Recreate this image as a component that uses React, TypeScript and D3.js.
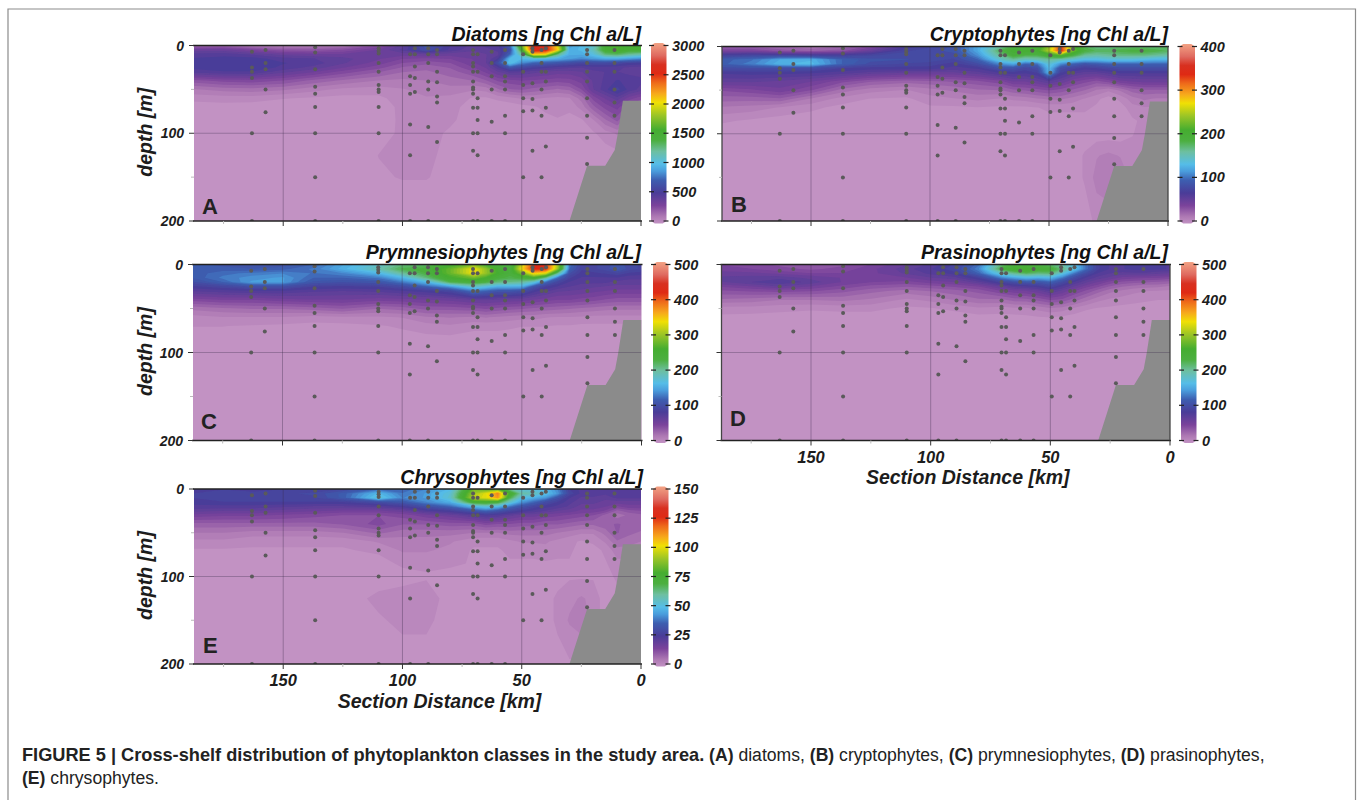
import * as d3 from "d3";

// Grid the fields were read on (section distance in km, depth in m)
const kmGrid = [190, 175, 163, 150, 137, 125, 110, 100, 90, 80, 70, 65, 60, 55, 50, 45, 40, 35, 30, 25, 20, 15, 10, 5, 0];
const depthGrid = [0, 5, 10, 15, 20, 25, 30, 40, 50, 60, 70, 85, 100, 125, 150, 200];

const diatoms = [
  [190, 200, 130, 110, 120, 140, 280, 450, 700, 520, 450, 480, 500, 750, 1700, 2650, 2600, 2000, 900, 1000, 1100, 1500, 1600, 1500, 1500],
  [400, 400, 330, 260, 250, 290, 380, 480, 650, 500, 430, 450, 480, 650, 1500, 2650, 2600, 2100, 950, 1000, 1150, 1500, 1600, 1500, 1500],
  [480, 490, 460, 400, 380, 380, 400, 400, 420, 400, 400, 420, 450, 750, 1250, 2100, 2050, 1300, 950, 950, 1050, 1300, 1350, 1250, 1200],
  [520, 540, 540, 490, 470, 440, 380, 330, 320, 330, 380, 420, 520, 1000, 1000, 1050, 1000, 950, 900, 850, 900, 950, 950, 900, 850],
  [540, 560, 560, 520, 490, 430, 350, 280, 250, 280, 370, 420, 650, 1050, 850, 750, 720, 680, 640, 600, 620, 620, 600, 560, 550],
  [530, 550, 560, 500, 450, 380, 300, 230, 200, 240, 330, 380, 500, 700, 620, 560, 530, 500, 480, 470, 500, 500, 480, 460, 450],
  [480, 510, 510, 440, 380, 310, 240, 190, 180, 210, 280, 340, 420, 480, 470, 440, 420, 400, 400, 420, 450, 470, 470, 450, 450],
  [260, 300, 310, 280, 220, 180, 140, 130, 140, 170, 190, 230, 290, 310, 330, 320, 310, 300, 310, 350, 430, 480, 520, 500, 480],
  [130, 160, 170, 150, 110, 80, 70, 90, 110, 120, 100, 110, 180, 230, 240, 220, 200, 180, 200, 280, 420, 500, 580, 500, 450],
  [60, 70, 70, 50, 40, 30, 35, 70, 90, 80, 40, 40, 60, 80, 100, 100, 90, 80, 90, 160, 300, 380, 450, 350, 300],
  [25, 25, 20, 15, 10, 10, 20, 60, 90, 70, 15, 10, 10, 15, 30, 40, 60, 80, 60, 110, 220, 300, 350, 250, 200],
  [10, 10, 8, 6, 5, 5, 15, 60, 85, 60, 10, 5, 5, 8, 15, 20, 30, 40, 30, 40, 90, 180, 250, 150, 100],
  [5, 5, 4, 3, 3, 3, 20, 60, 75, 35, 8, 3, 3, 4, 8, 8, 10, 12, 12, 15, 40, 70, 100, 80, 60],
  [3, 3, 3, 3, 3, 3, 48, 55, 60, 30, 5, 3, 3, 3, 3, 3, 3, 3, 3, 5, 10, 20, 30, 30, 30],
  [3, 3, 3, 3, 3, 3, 40, 50, 50, 30, 4, 3, 3, 3, 3, 3, 3, 3, 3, 3, 3, 3, 3, 3, 3],
  [3, 3, 3, 3, 3, 3, 3, 3, 3, 3, 3, 3, 3, 3, 3, 3, 3, 3, 3, 3, 3, 3, 3, 3, 3],
];

const cryptophytes = [
  [30, 30, 25, 20, 25, 40, 70, 80, 90, 125, 165, 190, 190, 195, 240, 335, 220, 180, 170, 170, 175, 175, 175, 175, 175],
  [45, 45, 35, 30, 35, 55, 80, 85, 90, 125, 185, 205, 205, 205, 250, 340, 230, 190, 180, 180, 185, 190, 190, 185, 180],
  [75, 80, 80, 75, 75, 80, 85, 85, 85, 115, 170, 195, 185, 185, 200, 220, 190, 165, 160, 165, 170, 170, 170, 165, 160],
  [95, 105, 125, 130, 100, 90, 88, 85, 80, 100, 150, 165, 150, 155, 165, 155, 145, 135, 135, 140, 140, 140, 135, 130, 130],
  [95, 110, 130, 135, 100, 85, 80, 78, 72, 85, 115, 125, 100, 105, 145, 115, 100, 90, 95, 100, 100, 100, 100, 100, 100],
  [85, 85, 85, 85, 75, 72, 72, 72, 66, 70, 90, 90, 80, 85, 135, 85, 78, 72, 75, 80, 85, 85, 85, 85, 85],
  [70, 72, 72, 70, 66, 60, 56, 55, 55, 60, 70, 72, 70, 75, 130, 75, 65, 60, 60, 65, 70, 70, 70, 70, 70],
  [58, 58, 55, 50, 40, 32, 28, 30, 32, 36, 42, 50, 50, 55, 62, 55, 45, 40, 35, 40, 48, 50, 52, 52, 52],
  [38, 42, 48, 38, 22, 15, 12, 16, 20, 24, 25, 30, 32, 35, 38, 35, 30, 25, 18, 14, 20, 28, 30, 30, 30],
  [28, 28, 30, 18, 10, 6, 5, 10, 12, 14, 12, 14, 15, 18, 20, 20, 16, 12, 8, 3, 8, 16, 20, 18, 18],
  [18, 16, 12, 8, 4, 2, 2, 5, 5, 6, 5, 5, 5, 6, 8, 8, 8, 8, 5, 1, 3, 10, 12, 12, 12],
  [8, 5, 3, 2, 1, 1, 1, 3, 3, 3, 3, 3, 3, 3, 3, 3, 3, 3, 3, 1, 1, 5, 8, 8, 8],
  [2, 2, 1, 1, 1, 1, 1, 3, 3, 3, 3, 3, 3, 3, 3, 3, 3, 3, 3, 3, 3, 6, 8, 8, 8],
  [1, 1, 1, 1, 1, 1, 1, 3, 3, 3, 3, 3, 3, 3, 3, 3, 3, 7, 12, 14, 12, 8, 8, 8, 8],
  [1, 1, 1, 1, 1, 1, 1, 3, 3, 3, 3, 3, 3, 3, 3, 3, 3, 7, 15, 18, 18, 10, 8, 8, 8],
  [1, 1, 1, 1, 1, 1, 1, 3, 3, 3, 3, 3, 3, 3, 3, 3, 3, 3, 8, 8, 8, 5, 5, 5, 5],
];

const prymnesiophytes = [
  [122, 115, 108, 112, 125, 155, 185, 215, 220, 255, 290, 260, 235, 230, 320, 425, 420, 310, 130, 100, 100, 105, 115, 105, 100],
  [118, 120, 118, 122, 135, 160, 195, 230, 240, 280, 340, 300, 255, 240, 340, 425, 420, 300, 125, 95, 100, 105, 120, 105, 100],
  [118, 130, 135, 140, 132, 140, 165, 205, 235, 280, 340, 300, 260, 240, 290, 350, 330, 210, 110, 90, 92, 95, 100, 92, 90],
  [115, 135, 145, 150, 125, 125, 135, 165, 215, 260, 285, 265, 240, 230, 240, 260, 210, 130, 95, 85, 85, 85, 85, 80, 80],
  [105, 125, 150, 150, 115, 110, 115, 135, 165, 230, 245, 235, 215, 210, 205, 180, 130, 100, 85, 80, 80, 80, 75, 75, 75],
  [90, 100, 110, 110, 95, 92, 95, 105, 125, 150, 190, 175, 160, 160, 160, 115, 95, 85, 78, 75, 72, 70, 68, 68, 68],
  [78, 82, 85, 85, 80, 78, 80, 85, 90, 100, 135, 125, 115, 115, 110, 90, 80, 72, 70, 68, 65, 62, 60, 60, 60],
  [50, 55, 55, 60, 62, 62, 58, 60, 62, 65, 72, 72, 70, 68, 66, 62, 58, 55, 55, 52, 50, 46, 44, 44, 44],
  [25, 30, 32, 32, 35, 40, 32, 35, 42, 42, 45, 48, 45, 42, 40, 38, 36, 34, 32, 30, 28, 26, 25, 25, 25],
  [12, 15, 15, 15, 12, 14, 14, 16, 22, 24, 22, 24, 22, 20, 18, 18, 16, 15, 15, 14, 13, 13, 13, 13, 13],
  [8, 8, 7, 6, 5, 5, 7, 9, 12, 14, 10, 10, 10, 9, 8, 8, 8, 7, 7, 6, 6, 6, 6, 6, 6],
  [4, 4, 4, 4, 4, 4, 4, 4, 5, 5, 4, 4, 4, 4, 4, 4, 4, 4, 4, 4, 4, 4, 4, 4, 4],
  [3, 3, 3, 3, 3, 3, 3, 3, 3, 3, 3, 3, 3, 3, 3, 3, 3, 3, 3, 3, 3, 3, 3, 3, 3],
  [3, 3, 3, 3, 3, 3, 3, 3, 3, 3, 3, 3, 3, 3, 3, 3, 3, 3, 3, 3, 3, 3, 3, 3, 3],
  [3, 3, 3, 3, 3, 3, 3, 3, 3, 3, 3, 3, 3, 3, 3, 3, 3, 3, 3, 3, 3, 3, 3, 3, 3],
  [3, 3, 3, 3, 3, 3, 3, 3, 3, 3, 3, 3, 3, 3, 3, 3, 3, 3, 3, 3, 3, 3, 3, 3, 3],
];

const prasinophytes = [
  [55, 50, 45, 40, 45, 55, 70, 80, 95, 130, 220, 240, 240, 230, 220, 200, 170, 130, 95, 85, 85, 90, 90, 88, 85],
  [60, 55, 50, 45, 50, 60, 75, 85, 100, 140, 240, 260, 265, 250, 245, 215, 175, 130, 95, 85, 85, 90, 90, 88, 85],
  [65, 65, 60, 55, 55, 60, 72, 80, 90, 125, 190, 210, 225, 215, 220, 180, 135, 105, 85, 78, 75, 75, 75, 72, 70],
  [72, 75, 75, 68, 62, 60, 62, 70, 75, 95, 140, 155, 165, 160, 165, 135, 105, 85, 75, 68, 60, 58, 56, 55, 52],
  [68, 78, 85, 75, 62, 55, 52, 58, 62, 75, 100, 110, 115, 115, 125, 105, 85, 72, 62, 52, 45, 42, 40, 38, 36],
  [55, 62, 70, 62, 52, 44, 40, 44, 48, 55, 72, 80, 85, 90, 100, 85, 70, 58, 48, 38, 32, 28, 26, 25, 22],
  [45, 48, 50, 48, 42, 34, 28, 32, 36, 42, 55, 60, 62, 68, 78, 68, 55, 45, 35, 26, 22, 18, 16, 15, 14],
  [30, 28, 24, 24, 26, 22, 14, 18, 24, 30, 30, 35, 36, 42, 48, 45, 35, 26, 18, 14, 12, 10, 9, 8, 8],
  [12, 12, 10, 9, 10, 10, 6, 7, 10, 14, 12, 14, 14, 18, 22, 20, 14, 9, 7, 6, 5, 5, 4, 4, 4],
  [6, 5, 5, 4, 4, 4, 3, 3, 3, 5, 5, 5, 6, 7, 8, 6, 4, 3, 3, 3, 3, 3, 3, 3, 3],
  [3, 3, 3, 3, 3, 3, 3, 3, 3, 3, 3, 3, 3, 3, 3, 3, 3, 3, 3, 3, 3, 3, 3, 3, 3],
  [3, 3, 3, 3, 3, 3, 3, 3, 3, 3, 3, 3, 3, 3, 3, 3, 3, 3, 3, 3, 3, 3, 3, 3, 3],
  [3, 3, 3, 3, 3, 3, 3, 3, 3, 3, 3, 3, 3, 3, 3, 3, 3, 3, 3, 3, 3, 3, 3, 3, 3],
  [3, 3, 3, 3, 3, 3, 3, 3, 3, 3, 3, 3, 3, 3, 3, 3, 3, 3, 3, 3, 3, 3, 3, 3, 3],
  [3, 3, 3, 3, 3, 3, 3, 3, 3, 3, 3, 3, 3, 3, 3, 3, 3, 3, 3, 3, 3, 3, 3, 3, 3],
  [3, 3, 3, 3, 3, 3, 3, 3, 3, 3, 3, 3, 3, 3, 3, 3, 3, 3, 3, 3, 3, 3, 3, 3, 3],
];

const chrysophytes = [
  [28, 28, 27, 28, 28, 30, 38, 38, 42, 50, 85, 80, 80, 62, 52, 52, 50, 42, 28, 25, 25, 24, 24, 24, 24],
  [28, 29, 29, 30, 31, 36, 50, 40, 45, 54, 92, 100, 115, 78, 60, 58, 52, 44, 30, 25, 25, 24, 25, 24, 24],
  [28, 30, 30, 30, 30, 36, 54, 42, 45, 55, 96, 100, 112, 70, 52, 48, 44, 34, 26, 23, 23, 22, 24, 24, 24],
  [27, 28, 28, 28, 28, 28, 32, 35, 42, 48, 75, 76, 72, 56, 44, 38, 32, 28, 24, 22, 22, 20, 20, 20, 20],
  [25, 25, 25, 24, 23, 23, 24, 27, 33, 38, 50, 54, 50, 40, 34, 30, 27, 25, 23, 20, 20, 19, 16, 18, 18],
  [22, 21, 21, 20, 19, 18, 18, 20, 25, 28, 34, 38, 34, 30, 27, 25, 23, 21, 20, 18, 18, 16, 11, 13, 14],
  [18, 17, 17, 16, 15, 14, 14, 15, 18, 20, 24, 26, 25, 22, 20, 20, 18, 17, 16, 15, 14, 11, 8, 10, 11],
  [11, 11, 11, 11, 11, 12, 15, 12, 12, 13, 13, 15, 14, 14, 13, 13, 12, 12, 11, 10, 10, 11, 12, 11, 11],
  [7, 7, 6, 6, 6, 7, 10, 8, 8, 8, 7, 7, 7, 8, 8, 8, 8, 7, 6, 5, 5, 8, 12, 10, 9],
  [4, 4, 3, 3, 3, 3, 5, 6, 6, 5, 3, 3, 3, 4, 5, 5, 5, 4, 3, 2, 3, 5, 9, 8, 7],
  [2, 2, 2, 2, 2, 2, 3, 5, 5, 4, 2, 2, 2, 3, 3, 3, 4, 3, 3, 1, 1, 3, 6, 6, 6],
  [1, 1, 1, 1, 1, 1, 1, 3, 3, 3, 2, 1, 1, 2, 2, 2, 2, 2, 2, 1, 1, 2, 4, 4, 4],
  [1, 1, 1, 1, 1, 1, 1, 1, 2, 1, 1, 1, 1, 1, 1, 1, 1, 1, 2, 2, 2, 1, 3, 3, 3],
  [1, 1, 1, 1, 1, 1, 3, 4, 4, 1, 1, 1, 1, 1, 1, 1, 1, 3, 4, 5, 4, 1, 1, 1, 1],
  [1, 1, 1, 1, 1, 1, 2, 3, 3, 1, 1, 1, 1, 1, 1, 1, 1, 3, 5, 6, 4, 1, 1, 1, 1],
  [1, 1, 1, 1, 1, 1, 1, 1, 1, 1, 1, 1, 1, 1, 1, 1, 1, 1, 2, 2, 2, 1, 1, 1, 1],
];

// Sampling stations, same in every panel
const stationKm = [163.1, 157.4, 136.6, 110, 96.8, 94.8, 89.2, 85.5, 70.4, 68.5, 62.6, 57, 49.4, 45.5, 41.7, 39.9, 22.6, 11.1];
const stationDepths = [
  [7, 25, 30, 37, 100, 200],
  [5, 20, 27, 50, 76],
  [2, 8, 27, 47, 55, 70, 100, 150, 200],
  [3, 6, 9, 20, 30, 45, 50, 53, 70, 100, 200],
  [10, 35, 45, 55, 90, 125, 200],
  [3, 10, 24, 37, 53],
  [3, 10, 20, 41, 50, 93, 200],
  [5, 10, 30, 42, 58, 65, 110],
  [5, 10, 20, 24, 30, 41, 48, 50, 55, 71, 100, 120, 200],
  [10, 30, 60, 71, 85, 100, 125, 200],
  [7, 20, 35, 50, 87, 200],
  [5, 20, 35, 41, 50, 80, 100, 200],
  [10, 30, 45, 60, 75, 150],
  [3, 7, 43, 61, 74, 120],
  [5, 20, 30, 50, 80, 150],
  [3, 30, 41, 71, 115],
  [5, 10, 20, 30, 41, 60, 80, 105, 135],
  [5, 20, 30, 50, 65, 80],
];

// Sea floor profile
const bottomKm = [30, 22.6, 15, 11, 9.7, 7.6, 0, 0];
const bottomDepth = [200, 137, 137, 119, 100, 63, 63, 200];

const kmTicks = [150, 100, 50, 0];
const kmMinorTicks = [175, 125, 75, 25];
const depthTicks = [0, 100, 200];
const depthMinorTicks = [50, 150];
const kmGridLines = [150, 100, 50];

const diatomTicks = [0, 500, 1000, 1500, 2000, 2500, 3000];
const cryptoTicks = [0, 100, 200, 300, 400];
const prymTicks = [0, 100, 200, 300, 400, 500];
const chrysoTicks = [0, 25, 50, 75, 100, 125, 150];

// ODV style rainbow
const paletteStops = [0, 0.04, 0.1, 0.17, 0.24, 0.29, 0.33, 0.4, 0.46, 0.52, 0.6, 0.67, 0.72, 0.78, 0.83, 0.88, 0.93, 1];
const paletteColors = [
  "#c292c3", "#ad78b3", "#7b439b", "#4a3c98", "#3d5eb0", "#4a9cdc", "#55bde8", "#6dbfa0", "#4caf40",
  "#45ad30", "#9cc526", "#f0e004", "#f7a81c", "#ee6a1a", "#df2a14", "#d83020", "#df6a60", "#f2a284",
];
const LEVELS = 64;
const KM_MAX = 187.4;
const FONT = "'Liberation Sans', Arial, sans-serif";

const layouts = [
  { id: "A", title: "Diatoms [ng Chl a/L]", values: diatoms, ticks: diatomTicks, max: 3000, left: 194, right: 641, top: 45.5, bottom: 221, titleX: 641, titleY: 40.5, barX: 651, letterX: 202, letterY: 214, yLabels: true, xLabels: false, sides: false },
  { id: "B", title: "Cryptophytes [ng Chl a/L]", values: cryptophytes, ticks: cryptoTicks, max: 400, left: 722, right: 1168, top: 46.5, bottom: 221, titleX: 1168, titleY: 40.5, barX: 1179.5, letterX: 731, letterY: 212, yLabels: false, xLabels: false, sides: true },
  { id: "C", title: "Prymnesiophytes [ng Chl a/L]", values: prymnesiophytes, ticks: prymTicks, max: 500, left: 193, right: 641.5, top: 264.5, bottom: 440.5, titleX: 641, titleY: 258.5, barX: 653, letterX: 201, letterY: 429, yLabels: true, xLabels: false, sides: false },
  { id: "D", title: "Prasinophytes [ng Chl a/L]", values: prasinophytes, ticks: prymTicks, max: 500, left: 721.5, right: 1170, top: 264.5, bottom: 440.5, titleX: 1168, titleY: 258.5, barX: 1181, letterX: 730, letterY: 426, yLabels: false, xLabels: true, sides: true },
  { id: "E", title: "Chrysophytes [ng Chl a/L]", values: chrysophytes, ticks: chrysoTicks, max: 150, left: 194, right: 641, top: 489, bottom: 664, titleX: 643, titleY: 484, barX: 653, letterX: 203, letterY: 653, yLabels: true, xLabels: true, sides: false },
];

function Panel({ p }: { p: (typeof layouts)[number] }) {
  const x = d3.scaleLinear().domain([KM_MAX, 0]).range([p.left, p.right]);
  const y = d3.scaleLinear().domain([0, 200]).range([p.top, p.bottom]);
  const color = d3
    .scaleLinear<string>()
    .domain(paletteStops.map((t) => t * p.max))
    .range(paletteColors)
    .interpolate(d3.interpolateRgb);

  // filled contours: grid cell i sits at i + 0.5 in d3.contours space
  const xIndex = d3.scaleLinear().domain(kmGrid.map((_, i) => i + 0.5)).range(kmGrid.map((k) => x(k))).clamp(true);
  const yIndex = d3.scaleLinear().domain(depthGrid.map((_, i) => i + 0.5)).range(depthGrid.map((d) => y(d))).clamp(true);
  const path = d3.geoPath(
    d3.geoTransform({
      point(px, py) {
        this.stream.point(xIndex(px), yIndex(py));
      },
    }),
  );
  const thresholds = d3.range(1, LEVELS).map((i) => (i * p.max) / LEVELS);
  const bands = d3.contours().size([kmGrid.length, depthGrid.length]).thresholds(thresholds)(p.values.flat());

  const floor = d3.line<number>()
    .x((k) => x(k))
    .y((_, i) => y(bottomDepth[i]))(bottomKm);

  const clipId = `clip-${p.id}`;
  const gradId = `grad-${p.id}`;
  const barW = 15.5;
  const barRight = p.barX + barW;
  const barMid = p.barX + barW / 2;
  const bar = d3.scaleLinear().domain([0, p.max]).range([p.bottom, p.top]);
  const barShape = `M${p.barX},${p.bottom} L${barMid - 4},${p.bottom + 2.5} L${barMid + 4},${p.bottom + 2.5} L${barRight},${p.bottom} L${barRight},${p.top} L${barMid + 4},${p.top - 2.5} L${barMid - 4},${p.top - 2.5} L${p.barX},${p.top} Z`;

  return (
    <g fontFamily={FONT}>
      <defs>
        <clipPath id={clipId}>
          <rect x={p.left} y={p.top} width={p.right - p.left} height={p.bottom - p.top} />
        </clipPath>
        <linearGradient id={gradId} x1="0" y1="1" x2="0" y2="0">
          {paletteStops.map((t, i) => (
            <stop key={t} offset={t} stopColor={paletteColors[i]} />
          ))}
        </linearGradient>
      </defs>

      <g clipPath={`url(#${clipId})`}>
        <g filter="url(#soft)">
          <rect x={p.left - 4} y={p.top - 4} width={p.right - p.left + 8} height={p.bottom - p.top + 8} fill={color(0)} />
          {bands.map((b) => (
            <path key={b.value} d={path(b) ?? ""} fill={color(b.value)} />
          ))}
        </g>
        <path d={floor ?? ""} fill="#8b8b8b" />
        {kmGridLines.map((k) => (
          <line key={k} x1={x(k)} x2={x(k)} y1={p.top} y2={p.bottom} stroke="#3c2a4a" strokeOpacity={0.35} />
        ))}
        <line x1={p.left} x2={p.right} y1={y(100)} y2={y(100)} stroke="#3c2a4a" strokeOpacity={0.32} />
        {stationKm.flatMap((k, i) =>
          stationDepths[i].map((d) => <circle key={`${k}-${d}`} cx={x(k)} cy={y(d)} r={2} fill="#5a5a5a" />),
        )}
      </g>

      {/* frame */}
      <line x1={p.left - 1} x2={p.right + 1} y1={p.top} y2={p.top} stroke="#222" strokeWidth={1.4} />
      <line x1={p.left - 1} x2={p.right + 1} y1={p.bottom} y2={p.bottom} stroke="#222" strokeWidth={1.4} />
      {p.sides && (
        <g stroke="#444" strokeWidth={1.3}>
          <line x1={p.left} x2={p.left} y1={p.top} y2={p.bottom} />
          <line x1={p.right} x2={p.right} y1={p.top} y2={p.bottom} />
        </g>
      )}

      {/* axis ticks */}
      {kmTicks.map((k) => (
        <line key={k} x1={x(k)} x2={x(k)} y1={p.bottom} y2={p.bottom + 5} stroke="#333" strokeWidth={1} />
      ))}
      {kmMinorTicks.map((k) => (
        <line key={k} x1={x(k)} x2={x(k)} y1={p.bottom} y2={p.bottom + 3} stroke="#bbb" strokeWidth={1} />
      ))}
      {depthTicks.map((d) => (
        <line key={d} x1={p.left - 5} x2={p.left} y1={y(d)} y2={y(d)} stroke="#333" strokeWidth={1} />
      ))}
      {depthMinorTicks.map((d) => (
        <line key={d} x1={p.left - 3} x2={p.left} y1={y(d)} y2={y(d)} stroke="#bbb" strokeWidth={1} />
      ))}

      <g fontWeight="bold" fontStyle="italic" fill="#1c1c1c">
        <text x={p.titleX} y={p.titleY} textAnchor="end" fontSize={19.5} fill="#111">
          {p.title}
        </text>
        {p.yLabels &&
          depthTicks.map((d) => (
            <text key={d} x={p.left - 10} y={y(d) + 5} textAnchor="end" fontSize={14}>
              {d}
            </text>
          ))}
        {p.yLabels && (
          <text transform={`translate(152,${(p.top + p.bottom) / 2 - 1}) rotate(-90)`} textAnchor="middle" fontSize={19.5}>
            depth [m]
          </text>
        )}
        {p.xLabels &&
          kmTicks.map((k) => (
            <text key={k} x={x(k)} y={p.bottom + 22} textAnchor="middle" fontSize={16.5}>
              {k}
            </text>
          ))}
        {p.xLabels && (
          <text x={(p.left + p.right) / 2 + 22} y={p.bottom + 43.5} textAnchor="middle" fontSize={19.5}>
            Section Distance [km]
          </text>
        )}
      </g>

      <text x={p.letterX} y={p.letterY} fontWeight="bold" fontSize={22} fill="#222">
        {p.id}
      </text>

      {/* colour bar */}
      <path d={barShape} fill={`url(#${gradId})`} />
      {p.ticks.map((t) => (
        <g key={t}>
          <line x1={p.barX - 2} x2={p.barX + 3} y1={bar(t)} y2={bar(t)} stroke="#222" strokeWidth={1.2} />
          <line x1={barRight - 3} x2={barRight + 2} y1={bar(t)} y2={bar(t)} stroke="#222" strokeWidth={1.2} />
          <text x={barRight + 5.5} y={bar(t) + 5} fontSize={14.5} fontWeight="bold" fontStyle="italic" fill="#1c1c1c">
            {t}
          </text>
        </g>
      ))}
    </g>
  );
}

export default function App() {
  return (
    <svg width={1358} height={800} style={{ position: "absolute", left: 0, top: 0, background: "#fff" }}>
      <defs>
        <filter id="soft" x="-2%" y="-2%" width="104%" height="104%">
          <feGaussianBlur stdDeviation={0.6} />
        </filter>
      </defs>
      <path d="M8,801 L8,9 L1355.5,9 L1355.5,801" fill="none" stroke="#8c8c8c" strokeWidth={1.2} />
      {layouts.map((p) => (
        <Panel key={p.id} p={p} />
      ))}
      <g fontFamily={FONT} fontSize={17.6} fill="#222">
        <text x={22} y={761}>
          <tspan fontWeight="bold" fontSize={18.2}>FIGURE 5 | Cross-shelf distribution of phytoplankton classes in the study area.</tspan>
          <tspan> </tspan>
          <tspan fontWeight="bold">(A)</tspan>
          <tspan> diatoms, </tspan>
          <tspan fontWeight="bold">(B)</tspan>
          <tspan> cryptophytes, </tspan>
          <tspan fontWeight="bold">(C)</tspan>
          <tspan> prymnesiophytes, </tspan>
          <tspan fontWeight="bold">(D)</tspan>
          <tspan> prasinophytes,</tspan>
        </text>
        <text x={22} y={784}>
          <tspan fontWeight="bold">(E)</tspan>
          <tspan> chrysophytes.</tspan>
        </text>
      </g>
    </svg>
  );
}
